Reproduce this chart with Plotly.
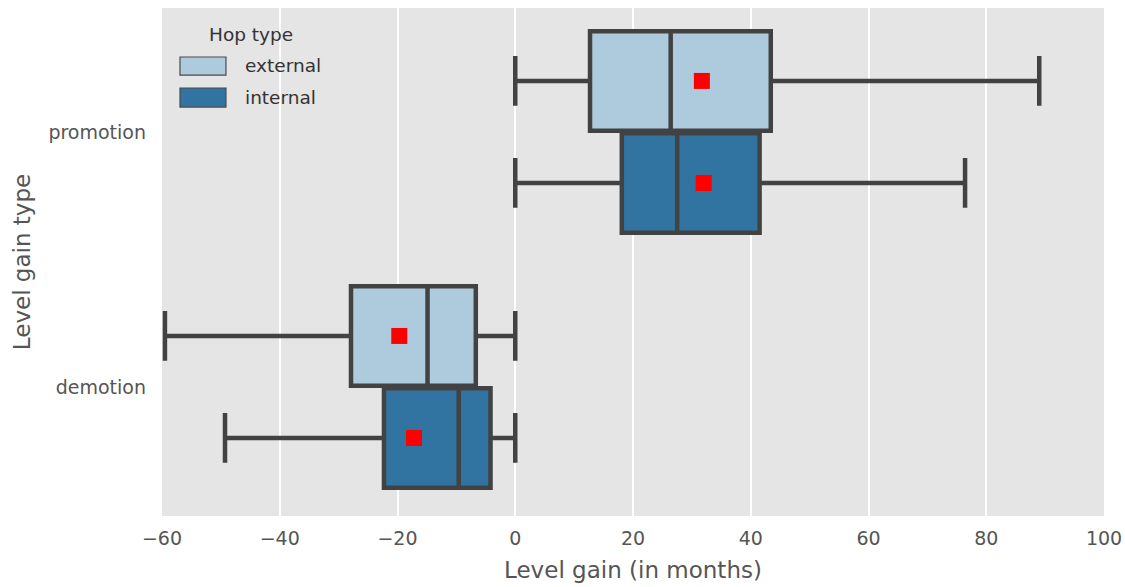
import plotly.graph_objects as go

# Data
categories = ["promotion", "demotion"]
hop_types = ["external", "internal"]

ext_low = [0.0, -59.5]
ext_q1 = [12.7, -27.9]
ext_med = [26.4, -14.9]
ext_q3 = [43.4, -6.7]
ext_high = [89.0, 0.0]
ext_mean = [31.7, -19.7]

int_low = [0.0, -49.3]
int_q1 = [18.1, -22.3]
int_med = [27.5, -9.6]
int_q3 = [41.5, -4.2]
int_high = [76.4, 0.0]
int_mean = [32.0, -17.2]

colors = {"external": "#aecbdd", "internal": "#3274a1"}
line_color = "#424242"
FONT = "DejaVu Sans, Verdana, sans-serif"

series = {
    "external": (ext_low, ext_q1, ext_med, ext_q3, ext_high, ext_mean),
    "internal": (int_low, int_q1, int_med, int_q3, int_high, int_mean),
}
offsets = {"external": -0.2, "internal": 0.2}

fig = go.Figure()
for h in hop_types:
    lo, q1, med, q3, hi, mn = series[h]
    pos = [i + offsets[h] for i in range(len(categories))]
    fig.add_trace(go.Box(
        orientation="h", y=pos, q1=q1, median=med, q3=q3,
        lowerfence=lo, upperfence=hi, width=0.39,
        fillcolor=colors[h], line=dict(color=line_color, width=4.5),
        whiskerwidth=0.5, showlegend=False, name=h, boxpoints=False,
    ))
    fig.add_trace(go.Scatter(
        x=mn, y=pos, mode="markers",
        marker=dict(symbol="square", size=16, color="red", line=dict(width=0)),
        showlegend=False, hoverinfo="skip",
    ))

# Custom legend (patches + real text) placed in the plot's domain coordinates
legend_rows = [(0.868, 0.9035, 0.886), (0.805, 0.8425, 0.824)]
for h, (y0, y1, ym) in zip(hop_types, legend_rows):
    fig.add_shape(type="rect", xref="x domain", yref="y domain",
                  x0=0.0191, x1=0.0679, y0=y0, y1=y1,
                  fillcolor=colors[h], line=dict(color="#4a4a4a", width=1.2))
    fig.add_annotation(xref="x domain", yref="y domain", x=0.086, y=ym,
                       text=h, showarrow=False, xanchor="left", yanchor="middle",
                       font=dict(family=FONT, size=18.5, color="#333333"))
fig.add_annotation(xref="x domain", yref="y domain", x=0.094, y=0.947,
                   text="Hop type", showarrow=False, xanchor="center", yanchor="middle",
                   font=dict(family=FONT, size=18.5, color="#333333"))

fig.update_layout(
    width=1125, height=587,
    margin=dict(l=162, r=21, t=8, b=71),
    paper_bgcolor="white", plot_bgcolor="#e5e5e5",
    font=dict(family=FONT, size=19, color="#555555"),
    boxmode="overlay",
    showlegend=False,
    xaxis=dict(
        range=[-60, 100], tickvals=[-60, -40, -20, 0, 20, 40, 60, 80, 100],
        ticktext=["\u221260", "\u221240", "\u221220", "0", "20", "40", "60", "80", "100"],
        showgrid=True, gridcolor="white", gridwidth=1.6, zeroline=False,
        ticks="", showline=False, ticklabelstandoff=9, automargin=False,
        title=dict(text="Level gain (in months)", font=dict(family=FONT, size=23, color="#555555"), standoff=13),
        tickfont=dict(family=FONT, size=19, color="#555555"),
    ),
    yaxis=dict(
        range=[1.506, -0.486], tickvals=list(range(len(categories))), ticktext=categories,
        showgrid=False, zeroline=False, ticks="", showline=False,
        ticklabelstandoff=15, automargin=False,
        title=dict(text="Level gain type", font=dict(family=FONT, size=23, color="#555555"), standoff=11),
        tickfont=dict(family=FONT, size=19, color="#555555"),
    ),
)

fig.write_html("out.html")
